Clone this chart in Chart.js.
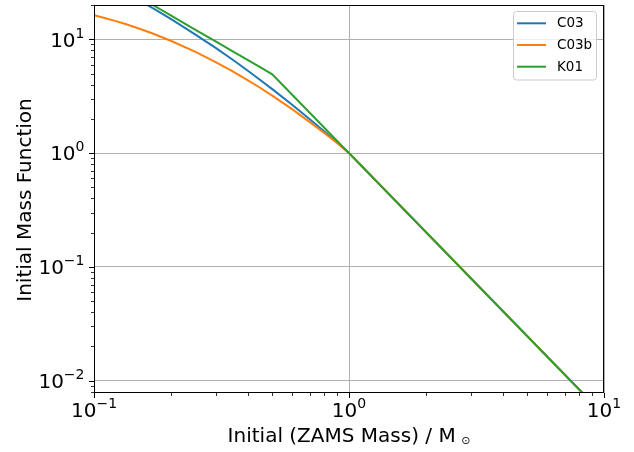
<!DOCTYPE html>
<html>
<head>
<meta charset="utf-8">
<script src="https://cdn.jsdelivr.net/npm/chart.js@4.4.1/dist/chart.umd.min.js"></script>
<style>
  html, body { margin: 0; padding: 0; background: #ffffff; }
  #wrap { width: 634px; height: 452px; }
</style>
</head>
<body>
<div id="wrap"><canvas id="imf" width="634" height="452"></canvas></div>
<script>
// Masas iniciales (M_sun) y valores de la IMF
const masses = [0.1, 0.11, 0.12, 0.13, 0.15, 0.17, 0.2, 0.25, 0.3, 0.35, 0.4, 0.45, 0.5, 0.6, 0.7, 0.8, 0.9, 1, 10];
const c03  = [35.4, 31.85, 28.8, 26.2, 22.0, 18.75, 15.1, 11.0, 8.39, 6.60, 5.32, 4.37, 3.65, 2.65, 1.99, 1.55, 1.23, 1.0, 0.0050];
const c03b = [16.25, 15.39, 14.57, 13.81, 12.43, 11.23, 9.70, 7.75, 6.31, 5.22, 4.38, 3.73, 3.20, 2.42, 1.88, 1.50, 1.22, 1.0, 0.0050];
const k01  = [39.9, 35.3, 31.5, 28.4, 23.6, 20.0, 16.2, 12.1, 9.57, 7.83, 6.58, 5.65, 4.92, 3.24, 2.27, 1.67, 1.27, 1.0, 0.0050];

// Ejes
const xMajor = [0.1, 1, 10];
const xMinor = [0.2, 0.3, 0.4, 0.5, 0.6, 0.7, 0.8, 0.9, 2, 3, 4, 5, 6, 7, 8, 9];
const yMajor = [0.01, 0.1, 1, 10];
const yMinor = [0.008, 0.009, 0.02, 0.03, 0.04, 0.05, 0.06, 0.07, 0.08, 0.09,
                0.2, 0.3, 0.4, 0.5, 0.6, 0.7, 0.8, 0.9, 2, 3, 4, 5, 6, 7, 8, 9, 20];
const seriesNames = ['C03', 'C03b', 'K01'];
const seriesColors = ['#1f77b4', '#ff7f0e', '#2ca02c'];

const FONT = '"DejaVu Sans", sans-serif';

function toPoints(ys) {
    return masses.map((m, i) => ({ x: m, y: ys[i] }));
}

// Etiqueta tipo 10^n con exponente en superindice
function drawPower(ctx, exp, x, baseY, align) {
    const base = '10';
    const sup = exp < 0 ? '\u2212' + Math.abs(exp) : String(exp);
    ctx.font = '20px ' + FONT;
    const wb = ctx.measureText(base).width;
    ctx.font = '14px ' + FONT;
    const ws = ctx.measureText(sup).width;
    const total = wb + ws;
    let left = align === 'center' ? x - total / 2 : x - total;
    ctx.textAlign = 'left';
    ctx.textBaseline = 'alphabetic';
    ctx.font = '20px ' + FONT;
    ctx.fillText(base, left, baseY);
    ctx.font = '14px ' + FONT;
    ctx.fillText(sup, left + wb, baseY - 9);
}

const mplAxes = {
    id: 'mplAxes',
    afterDatasetsDraw(chart) {
        const ctx = chart.ctx;
        const a = chart.chartArea;
        const xs = chart.scales.x, ys = chart.scales.y;
        ctx.save();
        ctx.fillStyle = '#000';
        ctx.strokeStyle = '#000';

        // marco
        ctx.lineWidth = 1;
        ctx.strokeRect(Math.round(a.left) + 0.5, Math.round(a.top) + 0.5,
                       Math.round(a.right - a.left) - 1, Math.round(a.bottom - a.top) - 1);

        // marcas de los ejes
        function tickX(v, len, w) {
            const px = Math.round(xs.getPixelForValue(v)) + 0.5;
            ctx.lineWidth = w;
            ctx.beginPath();
            ctx.moveTo(px, a.bottom);
            ctx.lineTo(px, a.bottom + len);
            ctx.stroke();
        }
        function tickY(v, len, w) {
            const py = Math.round(ys.getPixelForValue(v)) + 0.5;
            if (py < a.top - 1 || py > a.bottom + 1) return;
            ctx.lineWidth = w;
            ctx.beginPath();
            ctx.moveTo(a.left, py);
            ctx.lineTo(a.left - len, py);
            ctx.stroke();
        }
        xMajor.forEach(v => tickX(v, 5, 1));
        xMinor.forEach(v => tickX(v, 3, 0.8));
        yMajor.forEach(v => tickY(v, 5, 1));
        yMinor.forEach(v => tickY(v, 3, 0.8));

        // etiquetas de las marcas
        xMajor.forEach(v => {
            drawPower(ctx, Math.round(Math.log10(v)), xs.getPixelForValue(v), a.bottom + 23.5, 'center');
        });
        yMajor.forEach(v => {
            drawPower(ctx, Math.round(Math.log10(v)), a.left - 9.5, ys.getPixelForValue(v) + 7.4, 'right');
        });

        // titulo del eje x
        ctx.font = '20px ' + FONT;
        const main = 'Initial (ZAMS Mass) / M';
        const wm = ctx.measureText(main).width;
        ctx.font = '11px ' + FONT;
        const wo = ctx.measureText('\u2299').width;
        const cx = (a.left + a.right) / 2;
        const start = cx - (wm + 5.5 + wo) / 2;
        ctx.textAlign = 'left';
        ctx.textBaseline = 'alphabetic';
        ctx.font = '20px ' + FONT;
        ctx.fillText(main, start, 441.7);
        ctx.font = '11px ' + FONT;
        ctx.textBaseline = 'middle';
        ctx.fillText('\u2299', start + wm + 5.5, 441.5);

        // titulo del eje y
        ctx.save();
        ctx.translate(30.5, (a.top + a.bottom) / 2 + 1);
        ctx.rotate(-Math.PI / 2);
        ctx.font = '20px ' + FONT;
        ctx.textAlign = 'center';
        ctx.textBaseline = 'alphabetic';
        ctx.fillText('Initial Mass Function', 0, 0);
        ctx.restore();

        // leyenda
        const lx = 513.5, ly = 11.5, lw = 83, lh = 68.5, r = 3;
        ctx.beginPath();
        ctx.moveTo(lx + r, ly);
        ctx.arcTo(lx + lw, ly, lx + lw, ly + lh, r);
        ctx.arcTo(lx + lw, ly + lh, lx, ly + lh, r);
        ctx.arcTo(lx, ly + lh, lx, ly, r);
        ctx.arcTo(lx, ly, lx + lw, ly, r);
        ctx.closePath();
        ctx.fillStyle = 'rgba(255,255,255,0.8)';
        ctx.fill();
        ctx.strokeStyle = '#cccccc';
        ctx.lineWidth = 1;
        ctx.stroke();
        seriesNames.forEach((name, i) => {
            const yy = 23.3 + i * 21.7;
            ctx.strokeStyle = seriesColors[i];
            ctx.lineWidth = 2;
            ctx.beginPath();
            ctx.moveTo(517, yy);
            ctx.lineTo(546, yy);
            ctx.stroke();
            ctx.fillStyle = '#000';
            ctx.font = '13.5px ' + FONT;
            ctx.textAlign = 'left';
            ctx.textBaseline = 'middle';
            ctx.fillText(name, 557, yy + 0.5);
        });

        ctx.restore();
    }
};

// K01 se dibuja encima (order menor = encima)
const datasets = [c03, c03b, k01].map((vals, i) => ({
    label: seriesNames[i],
    data: toPoints(vals),
    borderColor: seriesColors[i],
    backgroundColor: seriesColors[i],
    borderWidth: 2,
    pointRadius: 0,
    fill: false,
    tension: 0,
    order: 2 - i
}));

const chart = new Chart(document.getElementById('imf').getContext('2d'), {
    type: 'line',
    data: { datasets: datasets },
    options: {
        responsive: false,
        animation: false,
        layout: { padding: { left: 94, right: 30, top: 5, bottom: 59 } },
        plugins: { legend: { display: false }, tooltip: { enabled: false } },
        scales: {
            x: {
                type: 'logarithmic',
                min: 0.1,
                max: 10,
                afterBuildTicks: s => { s.ticks = xMajor.map(v => ({ value: v })); },
                ticks: { display: false },
                grid: { color: '#b0b0b0', lineWidth: 1, drawTicks: false },
                border: { display: false }
            },
            y: {
                type: 'logarithmic',
                min: 0.0078,
                max: 20,
                afterBuildTicks: s => { s.ticks = yMajor.map(v => ({ value: v })); },
                ticks: { display: false },
                grid: { color: '#b0b0b0', lineWidth: 1, drawTicks: false },
                border: { display: false }
            }
        }
    },
    plugins: [mplAxes]
});
</script>
</body>
</html>
